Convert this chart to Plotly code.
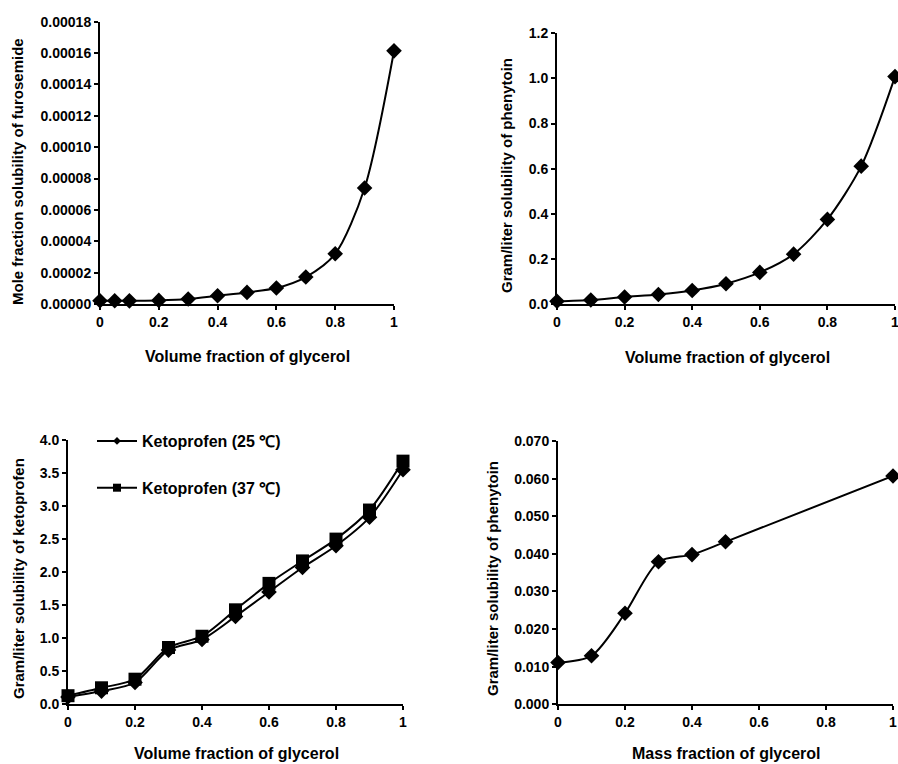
import plotly.graph_objects as go

# ---- data ----
furo_x = [0, 0.05, 0.1, 0.2, 0.3, 0.4, 0.5, 0.6, 0.7, 0.8, 0.9, 1.0]
furo_y = [2.1e-6, 2.1e-6, 2.0e-6, 2.3e-6, 3.2e-6, 5.3e-6, 7.4e-6, 1.02e-5, 1.72e-5, 3.2e-5, 7.4e-5, 1.614e-4]

phen_vol_x = [0, 0.1, 0.2, 0.3, 0.4, 0.5, 0.6, 0.7, 0.8, 0.9, 1.0]
phen_vol_y = [0.012, 0.018, 0.031, 0.042, 0.060, 0.090, 0.140, 0.221, 0.375, 0.611, 1.008]

keto_x = [0, 0.1, 0.2, 0.3, 0.4, 0.5, 0.6, 0.7, 0.8, 0.9, 1.0]
keto25_y = [0.11, 0.20, 0.33, 0.82, 0.98, 1.33, 1.70, 2.07, 2.40, 2.83, 3.55]
keto37_y = [0.13, 0.25, 0.38, 0.86, 1.03, 1.43, 1.83, 2.17, 2.50, 2.94, 3.68]
keto_names = ["Ketoprofen (25 \u2103)", "Ketoprofen (37 \u2103)"]

phen_mass_x = [0, 0.1, 0.2, 0.3, 0.4, 0.5, 1.0]
phen_mass_y = [0.0111, 0.0129, 0.0242, 0.0379, 0.0398, 0.0432, 0.0607]

W, H = 898, 764
FAM = "Liberation Sans, Arial, sans-serif"
TICKFONT = dict(family=FAM, size=14, color="black", weight="bold")
XTFONT = dict(family=FAM, size=16, color="black", weight="bold")
YTFONT = dict(family=FAM, size=15, color="black", weight="bold")
LEGFONT = dict(family=FAM, size=16, color="black", weight="bold")

def px_x(p):
    return p / W

def px_y(p):
    return 1 - p / H

fig = go.Figure()

line = dict(color="black", width=2, shape="spline", smoothing=0.8)

def add(x, y, xa, ya, symbol, size, name=None):
    fig.add_trace(go.Scatter(
        x=x, y=y, mode="lines+markers", xaxis=xa, yaxis=ya,
        line=line, marker=dict(symbol=symbol, size=size, color="black"),
        cliponaxis=False, showlegend=False, name=name or ""))

add(furo_x, furo_y, "x", "y", "diamond", 12)
add(phen_vol_x, phen_vol_y, "x2", "y2", "diamond", 12)
add(keto_x, keto25_y, "x3", "y3", "diamond", 12, keto_names[0])
add(keto_x, keto37_y, "x3", "y3", "square", 13, keto_names[1])
add(phen_mass_x, phen_mass_y, "x4", "y4", "diamond", 12)

# legend-only entries
fig.add_trace(go.Scatter(x=[None], y=[None], mode="lines+markers", xaxis="x3", yaxis="y3",
                         line=dict(color="black", width=2), marker=dict(symbol="diamond", size=6, color="black"),
                         name=keto_names[0], legendgroup="a", showlegend=True))
fig.add_trace(go.Scatter(x=[None], y=[None], mode="lines+markers", xaxis="x3", yaxis="y3",
                         line=dict(color="black", width=2), marker=dict(symbol="square", size=8, color="black"),
                         name=keto_names[1], legendgroup="b", showlegend=True))

def xaxis(x0, x1, anchor):
    return dict(domain=[px_x(x0), px_x(x1)], range=[0, 1], dtick=0.2, tick0=0,
                showline=True, linecolor="black", linewidth=2, ticks="outside",
                ticklen=4, tickwidth=2, tickcolor="black", showgrid=False, zeroline=False,
                tickfont=TICKFONT, anchor=anchor, fixedrange=True, automargin=False,
                ticklabeloverflow="allow")

def yaxis(y0, y1, rng, dt, fmt, anchor):
    return dict(domain=[px_y(y0), px_y(y1)], range=rng, dtick=dt, tick0=0, tickformat=fmt,
                showline=True, linecolor="black", linewidth=2, ticks="outside",
                ticklen=4, tickwidth=2, tickcolor="black", showgrid=False, zeroline=False,
                tickfont=TICKFONT, anchor=anchor, fixedrange=True, automargin=False,
                ticklabeloverflow="allow")

fig.update_layout(
    template="none",
    width=W, height=H, margin=dict(l=0, r=0, t=0, b=0, autoexpand=False),
    paper_bgcolor="white", plot_bgcolor="white",
    xaxis=xaxis(100, 394, "y"),
    yaxis=yaxis(304, 21.7, [0, 0.00018], 0.00002, ".5f", "x"),
    xaxis2=xaxis(557, 895, "y2"),
    yaxis2=yaxis(304, 33.3, [0, 1.2], 0.2, ".1f", "x2"),
    xaxis3=xaxis(68, 403, "y3"),
    yaxis3=yaxis(704.3, 440, [0, 4.0], 0.5, ".1f", "x3"),
    xaxis4=xaxis(558, 893, "y4"),
    yaxis4=yaxis(704.3, 441, [0, 0.070], 0.010, ".3f", "x4"),
    legend=dict(x=px_x(92), y=px_y(424), xanchor="left", yanchor="top",
                font=LEGFONT, bgcolor="rgba(0,0,0,0)", borderwidth=0,
                tracegroupgap=23, itemwidth=40),
    showlegend=True,
)

def ann(text, x, y, font, angle=0):
    fig.add_annotation(text=text, x=px_x(x), y=px_y(y), xref="paper", yref="paper",
                       showarrow=False, font=font, textangle=angle,
                       xanchor="center", yanchor="middle")

ann("Volume fraction of glycerol", 248, 356, XTFONT)
ann("Mole fraction solubility of furosemide", 18, 172, YTFONT, -90)
ann("Volume fraction of glycerol", 727, 357, XTFONT)
ann("Gram/liter solubility of phenytoin", 507, 175, YTFONT, -90)
ann("Volume fraction of glycerol", 237, 753, XTFONT)
ann("Gram/liter solubility of ketoprofen", 18, 579, YTFONT, -90)
ann("Mass fraction of glycerol", 726, 753, XTFONT)
ann("Gram/liter solubility of phenytoin", 492, 579, YTFONT, -90)

fig.write_html("out.html", config={"displayModeBar": False},
               post_script="document.body.style.margin='0';document.body.style.overflow='hidden';")
